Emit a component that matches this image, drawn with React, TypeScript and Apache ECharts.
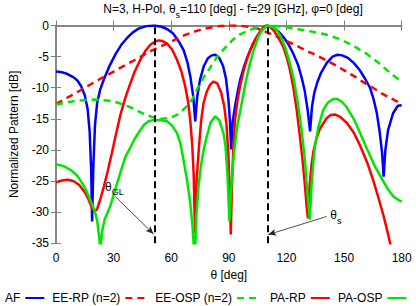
import React, { useEffect, useRef } from 'react';
import * as echarts from 'echarts';

const seriesNames = ['AF', 'EE-RP (n=2)', 'EE-OSP (n=2)', 'PA-RP', 'PA-OSP'];

const af: [number, number][] = [
  [0, -7.4], [3, -7.5], [6, -7.8], [9, -8.3], [11, -8.8], [13, -9.7], [15, -11.2], [16.5, -13.5], [17.5, -17], [18.3, -23], [18.8, -31.5], [19.4, -23], [20.3, -16], [21.4, -12.5], [23, -10.3], [25, -8.6], [28, -6.4], [31, -4.6], [34, -3.1], [37, -2.0], [40, -1.1], [43, -0.5], [47, -0.1], [51.3, 0], [55, -0.2], [58, -0.6], [61, -1.3], [64, -2.6], [66.5, -4.0], [68.5, -6.0], [70, -8.3], [71.5, -11.5], [72.5, -15.4], [73.5, -11.5], [75, -8.7], [77, -6.5], [79, -5.3], [81, -4.8], [83, -4.7], [85, -5.2], [87, -6.5], [88.5, -8.5], [89.8, -12], [90.6, -15.5], [91.2, -19.9], [92, -15.5], [93.2, -13], [94.5, -10.8], [96, -8.6], [98, -6.5], [100, -4.8], [102.5, -3.0], [105, -1.6], [107.5, -0.6], [110, 0], [113, -0.3], [116, -1.0], [118.5, -1.9], [121, -3.0], [123.5, -4.5], [126, -6.3], [128, -8.5], [129.5, -10.5], [131, -13.5], [132.3, -17], [133.3, -13], [134.5, -10.8], [136, -9.2], [138, -7.6], [141, -6.0], [144, -5.0], [146.5, -4.7], [149, -4.8], [152, -5.2], [155, -6.0], [158, -7.1], [161, -8.6], [163.5, -10], [165.5, -12], [167, -14], [168.5, -17], [169.8, -20.5], [170.6, -24.3], [171.5, -20], [172.9, -16.8], [175.5, -14.1], [178, -12.9], [180, -12.8],
];

const eeRp: [number, number][] = [
  [0, -12.6], [10, -10.9], [20, -9.1], [30, -7.4], [40, -5.7], [50, -4.0], [60, -2.6], [65, -1.8], [70, -1.2], [75, -0.7], [80, -0.35], [85, -0.1], [90, 0], [95, 0], [100, -0.2], [105, -0.5], [110, -1.1], [115, -1.8], [120, -2.5], [125, -3.2], [130, -4.0], [135, -4.7], [140, -5.5], [145, -6.3], [150, -7.2], [155, -8.1], [160, -9.1], [165, -10.0], [170, -11.0], [175, -11.8], [180, -12.6],
];

const eeOsp: [number, number][] = [
  [0, -12.7], [5, -12.4], [10, -12.1], [15, -12.0], [20, -11.9], [25, -12.0], [30, -12.2], [35, -12.7], [40, -13.3], [45, -14.1], [50, -14.7], [55, -15.0], [60, -14.8], [64, -14.2], [68, -13.0], [71, -11.8], [74, -9.9], [77, -8.3], [80, -6.9], [84, -5.0], [88, -3.6], [92, -2.3], [96, -1.4], [101, -0.7], [105, -0.3], [110, -0.1], [115, -0.1], [120, -0.3], [126, -0.6], [132, -0.9], [140, -1.4], [148, -2.2], [155, -3.3], [162, -4.6], [168, -6.0], [172, -7.1], [176, -8.1], [180, -9.0],
];

const paRp: [number, number][] = [
  [0, -25.2], [3, -24.9], [6, -24.8], [9, -25.0], [12, -25.6], [15, -26.8], [17, -28], [19, -29.5], [20.2, -29.9], [21.5, -29.4], [23, -28], [25, -25.8], [27, -23.3], [29, -20.6], [31, -17.8], [33.5, -14.4], [36, -11.7], [38.7, -9.3], [41, -7.4], [43.9, -5.5], [46.5, -4.1], [49.1, -3.1], [51.5, -2.6], [53.4, -2.4], [55.5, -2.5], [57.8, -2.9], [60.5, -3.9], [63, -5.5], [65.3, -7.4], [67.3, -9.8], [68.8, -12.3], [69.9, -15.2], [70.9, -19], [71.7, -24], [72.4, -33.3], [73.2, -25], [74.2, -20.5], [75.5, -15.5], [76.8, -12.5], [78.5, -10.6], [80.3, -9.5], [82, -9.0], [84, -9.3], [86, -10.8], [87.5, -12.8], [88.8, -16], [89.8, -21], [90.5, -27], [91, -33.6], [91.6, -26], [92.3, -20], [93.2, -15.2], [94.5, -12], [95.8, -9.8], [97.5, -7.5], [99.3, -5.5], [101.5, -3.7], [103.6, -2.3], [106, -1.1], [108, -0.3], [109.5, 0], [111, -0.1], [113.1, -0.7], [115.5, -1.8], [118.3, -3.4], [120.5, -5.5], [122, -7.4], [123.5, -9.8], [125.3, -13.5], [127, -17.8], [128.5, -22], [129.7, -26], [130.5, -29.1], [131.2, -31], [132, -26], [133, -22.5], [134, -20.3], [135.5, -18.3], [137.4, -16.6], [140.9, -14.9], [143, -14.4], [145.2, -14.3], [148, -14.7], [151.3, -15.6], [155, -17.2], [158.2, -19.2], [162, -22.0], [165.1, -24.8], [168, -27.8], [170.3, -30.3], [172.5, -33], [174, -35], [177, -39], [180, -43],
];

const paOsp: [number, number][] = [
  [0, -22.3], [4, -22.6], [8, -23.3], [11, -24.1], [14, -25.5], [16, -26.7], [18, -28.2], [20.2, -29.8], [21.5, -31.5], [22.5, -34], [23.1, -36], [24, -33], [25.5, -31], [28.3, -29], [31, -26.2], [33.5, -23.7], [36, -21.2], [38.7, -19.6], [41, -18.2], [43.9, -16.8], [46, -15.9], [48.2, -15.4], [51, -15.2], [54, -15.2], [57.8, -15.4], [60.5, -16.1], [63, -17.3], [64.8, -19], [66.4, -21.6], [68.2, -24.8], [69.9, -28.5], [71, -32], [72.3, -38], [73, -31], [74.2, -25.9], [75.5, -22.5], [77, -19.8], [78.5, -17.8], [80.5, -15.6], [82.9, -14.6], [85, -15.2], [87.2, -17.3], [88.3, -19.5], [89.3, -24], [90.3, -31.5], [91.3, -26], [92.2, -22], [93.2, -19], [94.5, -16], [96.7, -12.5], [98.8, -9], [101, -6.1], [103.2, -3.7], [105.4, -1.8], [107.5, -0.7], [110, 0], [112.5, -0.2], [114.9, -0.7], [117, -1.8], [119.2, -3.4], [121.3, -5.5], [123.5, -8.2], [125.7, -12], [127.9, -16.8], [129.7, -22], [131.3, -28.5], [132.2, -31.2], [133, -26], [134, -22], [134.8, -19.5], [136.5, -16.5], [139.1, -13.6], [141.5, -12.4], [144.3, -11.8], [146.5, -11.8], [149, -12.3], [151.3, -13.1], [155, -15.0], [158.2, -17.2], [162, -19.9], [166, -22.6], [170, -24.8], [173, -26.4], [175.5, -27.4], [178, -28.0], [180, -28.3],
];

// reference angles (grating lobe and steering angle)
const thetaGL = 51.3;
const thetaS = 110;

// annotation arrows: [start, end] in (deg, dB)
const arrowGL: [number, number][] = [[30.9, -27.5], [50.8, -33.5]];
const arrowS: [number, number][] = [[140.9, -30.7], [110.5, -33.6]];
const labelGL: [number, number] = [30.4, -26.2];
const labelS: [number, number] = [145.7, -30.8];

const FONT = 'Liberation Sans, Arial, Helvetica, sans-serif';
const GRAY = '#808080';
const GREEN = '#00e600';

// left edge (px) of each legend entry
const legendLeft = [5, 52, 155, 270, 338];

export default function App() {
  const ref = useRef<HTMLDivElement>(null);
  useEffect(() => {
    const chart = echarts.init(ref.current!, null, { renderer: 'svg' });
    const axisCommon = {
      type: 'value' as const,
      axisLine: { show: true, lineStyle: { color: GRAY, width: 1.5 } },
      axisTick: { show: true, inside: true, length: 5, lineStyle: { color: GRAY, width: 1 } },
      splitLine: { show: false },
    };
    const lineSeries = (name: string, data: [number, number][], color: string, dashed: boolean) => ({
      name,
      type: 'line',
      data,
      symbol: 'none',
      showSymbol: false,
      smooth: false,
      clip: true,
      lineStyle: { color, width: 2.5, type: dashed ? [7, 5] : 'solid' },
      itemStyle: { color },
    });
    const richSub = {
      m: { fontSize: 12, fontFamily: FONT, color: '#000', padding: [0, 0, 4, 0] },
      sub: { fontSize: 9, fontFamily: FONT, color: '#000', verticalAlign: 'bottom' },
    };
    chart.setOption({
      animation: false,
      textStyle: { fontFamily: FONT },
      title: {
        text: '{m|N=3, H-Pol, θ}{sub|s}{m|=110 [deg] - f=29 [GHz], φ=0 [deg]}',
        left: 228,
        top: -2,
        textAlign: 'center',
        textStyle: { fontSize: 12, fontWeight: 'normal', color: '#000', rich: richSub },
      },
      grid: { left: 55.5, right: 14.3, top: 25.5, bottom: 62.7, containLabel: false },
      legend: seriesNames.map((n, i) => ({
        data: [n],
        align: 'right',
        left: legendLeft[i],
        bottom: 2,
        padding: 0,
        itemWidth: 19,
        itemHeight: 8,
        itemStyle: { opacity: 0 },
        textStyle: { fontSize: 12, color: '#000', fontFamily: FONT },
      })),
      xAxis: [
        {
          ...axisCommon,
          position: 'bottom',
          min: 0,
          max: 180,
          interval: 30,
          axisLabel: { fontSize: 12, color: '#000', margin: 9, fontFamily: FONT },
          name: 'θ [deg]',
          nameLocation: 'middle',
          nameGap: 26,
          nameTextStyle: { fontSize: 12, color: '#000', fontFamily: FONT },
        },
        {
          ...axisCommon,
          position: 'top',
          min: 0,
          max: 180,
          interval: 30,
          axisLabel: { show: false },
        },
      ],
      yAxis: [
        {
          ...axisCommon,
          position: 'left',
          min: -35,
          max: 0,
          interval: 5,
          axisLabel: { fontSize: 12, color: '#000', margin: 7, fontFamily: FONT },
          name: 'Normalized Pattern [dB]',
          nameLocation: 'middle',
          nameGap: 36,
          nameTextStyle: { fontSize: 12, color: '#000', fontFamily: FONT },
        },
        {
          ...axisCommon,
          position: 'right',
          min: -35,
          max: 0,
          interval: 5,
          axisLabel: { show: false },
        },
      ],
      series: [
        lineSeries(seriesNames[0], af, '#0000ff', false),
        lineSeries(seriesNames[1], eeRp, '#ff0000', true),
        lineSeries(seriesNames[2], eeOsp, GREEN, true),
        lineSeries(seriesNames[3], paRp, '#ff0000', false),
        lineSeries(seriesNames[4], paOsp, GREEN, false),
        {
          name: 'annotations',
          type: 'line',
          data: [],
          z: 10,
          silent: true,
          markLine: {
            silent: true,
            animation: false,
            label: { show: false },
            data: [
              [
                { xAxis: thetaGL, yAxis: -35, symbol: 'none', lineStyle: { color: '#000', type: [7, 4], width: 2 } },
                { xAxis: thetaGL, yAxis: 0, symbol: 'none' },
              ],
              [
                { xAxis: thetaS, yAxis: -35, symbol: 'none', lineStyle: { color: '#000', type: [7, 4], width: 2 } },
                { xAxis: thetaS, yAxis: 0, symbol: 'none' },
              ],
              [
                { coord: arrowGL[0], symbol: 'none', lineStyle: { color: '#222', type: 'solid', width: 0.8 } },
                { coord: arrowGL[1], symbol: 'arrow', symbolSize: [5, 8] },
              ],
              [
                { coord: arrowS[0], symbol: 'none', lineStyle: { color: '#222', type: 'solid', width: 0.8 } },
                { coord: arrowS[1], symbol: 'arrow', symbolSize: [5, 8] },
              ],
            ],
          },
          markPoint: {
            silent: true,
            animation: false,
            symbol: 'circle',
            symbolSize: 0,
            data: [
              { coord: labelGL, label: { show: true, position: 'inside', formatter: '{m|θ}{sub|GL}', rich: richSub } },
              { coord: labelS, label: { show: true, position: 'inside', formatter: '{m|θ}{sub|s}', rich: richSub } },
            ],
          },
        },
      ],
    });
    return () => chart.dispose();
  }, []);
  return <div ref={ref} style={{ position: 'absolute', left: 0, top: 0, width: 416, height: 306 }} />;
}
